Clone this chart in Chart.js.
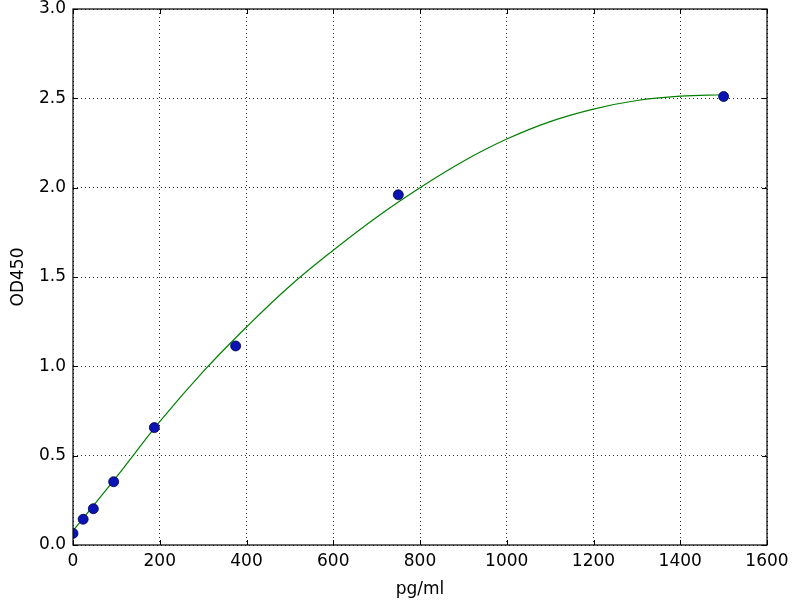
<!DOCTYPE html>
<html><head><meta charset="utf-8">
<script src="https://cdn.jsdelivr.net/npm/chart.js@4"></script>
<style>html,body{margin:0;padding:0;background:#fff}#wrap{width:800px;height:600px}</style>
</head><body><div id="wrap"><canvas id="c" width="800" height="600"></canvas></div>
<script>
const concentrations = [0, 23.44, 46.88, 93.75, 187.5, 375, 750, 1500];
const odValues = [0.065, 0.144, 0.203, 0.354, 0.657, 1.114, 1.96, 2.51];
const curveX = [0, 100, 200, 300, 400, 500, 600, 700, 800, 900, 1000, 1100, 1200, 1300, 1400, 1500];
const curveY = [0.08, 0.38, 0.69, 0.97, 1.22, 1.45, 1.65, 1.835, 2.0, 2.148, 2.272, 2.37, 2.44, 2.488, 2.512, 2.52];
const xTicks = [0, 200, 400, 600, 800, 1000, 1200, 1400, 1600];
const yTicks = [0.0, 0.5, 1.0, 1.5, 2.0, 2.5, 3.0];

const FONT = "'DejaVu Sans', sans-serif";
const frame = {
  id: 'frame',
  afterDraw(chart) {
    const {ctx, chartArea: a, scales} = chart;
    ctx.save();
    ctx.strokeStyle = '#000';
    ctx.lineWidth = 1;
    ctx.beginPath();
    xTicks.forEach(v => {
      const px = Math.round(scales.x.getPixelForValue(v)) + 0.5;
      ctx.moveTo(px, a.bottom); ctx.lineTo(px, a.bottom - 5);
      ctx.moveTo(px, a.top); ctx.lineTo(px, a.top + 5);
    });
    yTicks.forEach(v => {
      const py = Math.round(scales.y.getPixelForValue(v)) + 0.5;
      ctx.moveTo(a.left, py); ctx.lineTo(a.left + 5, py);
      ctx.moveTo(a.right, py); ctx.lineTo(a.right - 5, py);
    });
    ctx.stroke();
    ctx.lineWidth = 1.2;
    ctx.strokeRect(a.left, a.top, a.right - a.left, a.bottom - a.top);
    ctx.restore();
  }
};

new Chart(document.getElementById('c'), {
  type: 'scatter',
  data: {
    datasets: [
      {
        label: 'points',
        data: concentrations.map((x, i) => ({x, y: odValues[i]})),
        backgroundColor: '#0a14b4',
        borderColor: '#000040',
        borderWidth: 0.8,
        pointRadius: 5,
        showLine: false,
        order: 0
      },
      {
        label: 'fit',
        data: curveX.map((x, i) => ({x, y: curveY[i]})),
        showLine: true,
        borderColor: '#008000',
        borderWidth: 1.2,
        pointRadius: 0,
        tension: 0.4,
        fill: false,
        order: 1
      }
    ]
  },
  options: {
    responsive: false,
    animation: false,
    devicePixelRatio: 1,
    layout: {padding: {left: 0, right: 33, top: 9, bottom: 0}},
    plugins: {legend: {display: false}, tooltip: {enabled: false}},
    scales: {
      x: {
        type: 'linear', min: 0, max: 1600,
        afterBuildTicks: s => { s.ticks = xTicks.map(v => ({value: v})); },
        afterFit: s => { s.height = 55; s.paddingLeft = 0; s.paddingRight = 0; },
        grid: {color: '#000', lineWidth: 0.8, drawTicks: false},
        border: {display: false, dash: [1, 3]},
        ticks: {color: '#000', font: {family: FONT, size: 17}, padding: 6, maxRotation: 0, callback: v => String(v)},
        title: {display: true, text: 'pg/ml', color: '#000', font: {family: FONT, size: 17}, padding: {top: 0, bottom: 0}}
      },
      y: {
        type: 'linear', min: 0, max: 3,
        afterBuildTicks: s => { s.ticks = yTicks.map(v => ({value: v})); },
        afterFit: s => { s.width = 73; s.paddingTop = 0; s.paddingBottom = 0; },
        grid: {color: '#000', lineWidth: 0.8, drawTicks: false},
        border: {display: false, dash: [1, 3]},
        ticks: {color: '#000', font: {family: FONT, size: 17}, padding: 7, callback: v => v.toFixed(1)},
        title: {display: true, text: 'OD450', color: '#000', font: {family: FONT, size: 17}, padding: {top: 8, bottom: 0}}
      }
    }
  },
  plugins: [frame]
});
</script></body></html>
